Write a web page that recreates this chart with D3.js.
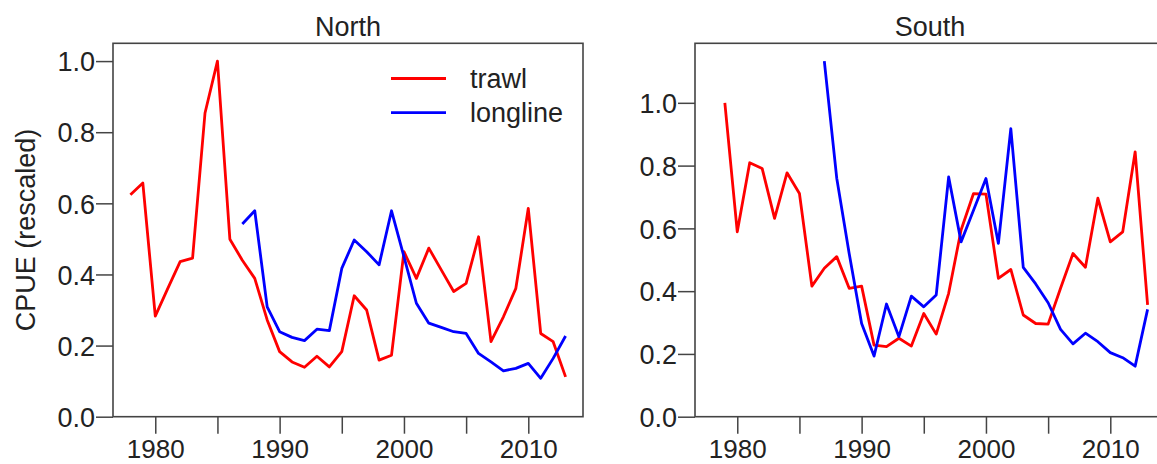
<!DOCTYPE html>
<html>
<head>
<meta charset="utf-8">
<script src="https://cdn.jsdelivr.net/npm/d3@7"></script>
<style>
  html, body { margin: 0; padding: 0; background: #fff; }
  svg { display: block; }
  text { font-family: "Liberation Sans", Arial, sans-serif; fill: #222; }
</style>
</head>
<body>
<svg id="chart" width="1157" height="464"></svg>
<script>
// ---- data ----
const northTrawlYears = d3.range(1978, 2014);
const northTrawl = [0.624, 0.657, 0.283, 0.36, 0.436, 0.446, 0.854, 1.0, 0.499, 0.44,
  0.389, 0.272, 0.183, 0.154, 0.139, 0.170, 0.140, 0.183, 0.340, 0.300,
  0.159, 0.173, 0.464, 0.389, 0.474, 0.413, 0.352, 0.375, 0.506, 0.211,
  0.281, 0.361, 0.586, 0.234, 0.211, 0.112];
const northLonglineYears = d3.range(1987, 2014);
const northLongline = [0.542, 0.579, 0.309, 0.239, 0.223, 0.214, 0.246, 0.242, 0.417, 0.497,
  0.464, 0.427, 0.579, 0.45, 0.319, 0.263, 0.251, 0.239, 0.234, 0.178,
  0.154, 0.129, 0.136, 0.150, 0.108, 0.164, 0.227];
const southTrawlYears = d3.range(1979, 2014);
const southTrawl = [1.0, 0.589, 0.809, 0.791, 0.632, 0.777, 0.711, 0.416, 0.473, 0.510,
  0.409, 0.416, 0.228, 0.223, 0.250, 0.225, 0.329, 0.263, 0.393, 0.595,
  0.711, 0.709, 0.441, 0.469, 0.324, 0.297, 0.295, 0.409, 0.520, 0.476,
  0.696, 0.557, 0.589, 0.844, 0.356];
const southLonglineYears = d3.range(1987, 2014);
const southLongline = [1.133, 0.76, 0.52, 0.297, 0.193, 0.359, 0.255, 0.384, 0.350, 0.388,
  0.764, 0.557, 0.658, 0.759, 0.552, 0.918, 0.476, 0.423, 0.363, 0.278,
  0.232, 0.266, 0.239, 0.204, 0.188, 0.161, 0.342];
const panelTitles = ["North", "South"];
const seriesNames = ["trawl", "longline"];
const seriesColors = ["#ff0000", "#0000ff"];
const xTickValues = [1980, 1985, 1990, 1995, 2000, 2005, 2010];
const xTickLabels = ["1980", "", "1990", "", "2000", "", "2010"];
const yTickValues = [0, 0.2, 0.4, 0.6, 0.8, 1.0];
const yLabel = "CPUE (rescaled)";

// ---- layout ----
const svg = d3.select("#chart");
const panelW = 470, panelTop = 43.3, panelBottom = 416.7;
const panelLefts = [113, 695];
const FS = 27;

const panels = [
  { title: panelTitles[0], series: [
      { x: northTrawlYears, y: northTrawl },
      { x: northLonglineYears, y: northLongline } ], legend: true },
  { title: panelTitles[1], series: [
      { x: southTrawlYears, y: southTrawl },
      { x: southLonglineYears, y: southLongline } ], legend: false }
];

panels.forEach((p, i) => {
  const left = panelLefts[i];
  const g = svg.append("g");
  const allY = p.series.flatMap(s => s.y);
  const ymax = d3.max(allY) * 1.05;
  const x = d3.scaleLinear().domain([1976.6, 2014.4]).range([left, left + panelW]);
  const y = d3.scaleLinear().domain([0, ymax]).range([panelBottom, panelTop]);

  // x axis
  const xAxis = d3.axisBottom(x).tickValues(xTickValues)
    .tickFormat((d, k) => xTickLabels[k]).tickSize(17).tickPadding(4);
  const gx = g.append("g").attr("transform", `translate(0,${panelBottom})`).call(xAxis);
  gx.select(".domain").remove();
  gx.selectAll(".tick line").attr("stroke", "#444").attr("stroke-width", 1.5);
  gx.selectAll(".tick text").attr("font-size", 26).attr("fill", "#222")
    .attr("dy", null).attr("y", 458.2 - panelBottom);

  // y axis
  const yAxis = d3.axisLeft(y).tickValues(yTickValues)
    .tickFormat(d3.format(".1f")).tickSize(17).tickPadding(1);
  const gy = g.append("g").attr("transform", `translate(${left},0)`).call(yAxis);
  gy.select(".domain").remove();
  gy.selectAll(".tick line").attr("stroke", "#444").attr("stroke-width", 1.5);
  gy.selectAll(".tick text").attr("font-size", FS).attr("fill", "#222").attr("dy", "0.36em");

  // lines
  const line = d3.line().x(d => x(d[0])).y(d => y(d[1]));
  p.series.forEach((s, k) => {
    g.append("path")
      .datum(d3.zip(s.x, s.y))
      .attr("d", line)
      .attr("fill", "none")
      .attr("stroke", seriesColors[k])
      .attr("stroke-width", 2.8)
      .attr("stroke-linejoin", "round");
  });

  // box
  g.append("rect")
    .attr("x", left).attr("y", panelTop)
    .attr("width", panelW).attr("height", panelBottom - panelTop)
    .attr("fill", "none").attr("stroke", "#444").attr("stroke-width", 1.6);

  // title
  g.append("text")
    .attr("x", left + panelW / 2).attr("y", 36)
    .attr("text-anchor", "middle").attr("font-size", FS)
    .text(p.title);

  // legend
  if (p.legend) {
    seriesNames.forEach((n, k) => {
      const ly = 78.5 + k * 34.2;
      g.append("line")
        .attr("x1", 391).attr("x2", 446).attr("y1", ly).attr("y2", ly)
        .attr("stroke", seriesColors[k]).attr("stroke-width", 2.8);
      g.append("text")
        .attr("x", 470).attr("y", ly).attr("dy", "0.36em")
        .attr("font-size", FS).text(n);
    });
  }
});

// y label
svg.append("text")
  .attr("transform", `translate(35,${(panelTop + panelBottom) / 2}) rotate(-90)`)
  .attr("text-anchor", "middle").attr("font-size", FS)
  .text(yLabel);
</script>
</body>
</html>
